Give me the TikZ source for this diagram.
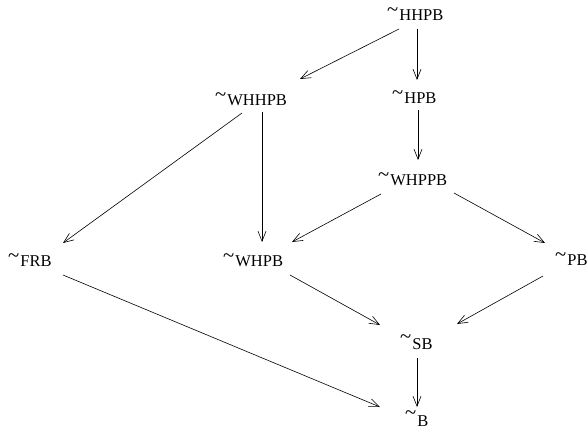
\documentclass[tikz,border=0pt]{standalone}
\usepackage{fontspec}
\setmainfont{Liberation Serif}
\usetikzlibrary{arrows.meta,calc}
\newcommand\tld[1][3.5pt]{\raisebox{#1}{\scalebox{1.25}[1.3]{\textasciitilde}}\kern1pt}
\tikzset{
  lbl/.style={anchor=base west,inner sep=0pt,font=\fontsize{16.5}{18}\selectfont},
  arr/.style={line width=0.6pt,-{Straight Barb[length=10pt,width=8pt,line width=0.6pt]}}
}
\begin{document}
\begin{tikzpicture}[x=1pt,y=-1pt]
\useasboundingbox (0,0) rectangle (588,431);
\node[lbl] (hhpb)  at (387,20)  {\tld HHPB};
\node[lbl] (whhpb) at (215,105) {\tld WHHPB};
\node[lbl] (hpb)   at (392,103) {\tld HPB};
\node[lbl] (whppb) at (378,185) {\tld WHPPB};
\node[lbl] (frb)   at (8,266)   {\tld[4pt] FRB};
\node[lbl] (whpb)  at (223,266) {\tld WHPB};
\node[lbl] (pb)    at (555,265) {\tld[4pt] PB};
\node[lbl] (sb)    at (400,349) {\tld[5.5pt] SB};
\node[lbl] (b)     at (405,426) {\tld[7pt] B};
\draw[arr] ($(hhpb.base west)+(12,9)$)  -- ($(whhpb.base west)+(85,-26)$);
\draw[arr] ($(hhpb.base west)+(30,9)$)  -- ($(hpb.base west)+(25,-23)$);
\draw[arr] ($(hpb.base west)+(26,7)$)   -- ($(whppb.base west)+(40,-25)$);
\draw[arr] ($(whhpb.base west)+(27,8)$) -- ($(frb.base west)+(55,-23)$);
\draw[arr] ($(whhpb.base west)+(47,7)$) -- ($(whpb.base west)+(39,-24)$);
\draw[arr] ($(whppb.base west)+(3,9)$)  -- ($(whpb.base west)+(69,-24)$);
\draw[arr] ($(whppb.base west)+(76,8)$) -- ($(pb.base west)+(-10,-22)$);
\draw[arr] ($(whpb.base west)+(67,9)$)  -- ($(sb.base west)+(-20,-24)$);
\draw[arr] ($(pb.base west)+(-12,11)$)  -- ($(sb.base west)+(57,-25)$);
\draw[arr] ($(sb.base west)+(17,9)$)    -- ($(b.base west)+(12,-19)$);
\draw[arr] ($(frb.base west)+(55,9)$)   -- ($(b.base west)+(-25,-19)$);
\end{tikzpicture}
\end{document}
